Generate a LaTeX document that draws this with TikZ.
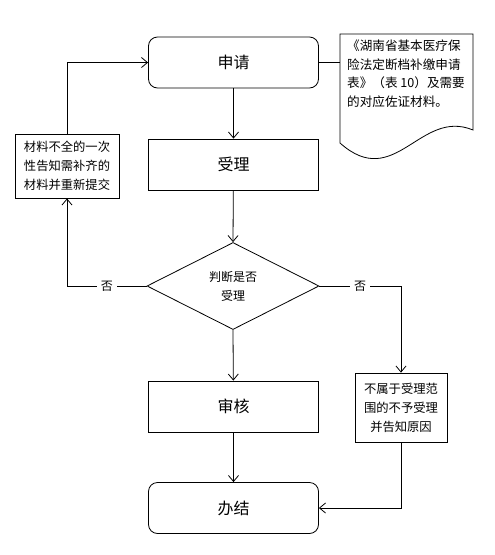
\documentclass[tikz,border=0pt]{standalone}
\usepackage{fontspec}
\setmainfont{Noto Sans CJK SC}
\usetikzlibrary{arrows.meta,shapes.geometric}
\tikzset{
  base/.style={draw=black, line width=0.8pt, inner sep=0pt, align=center},
  bigbox/.style={base, minimum width=170pt, minimum height=51pt, font=\fontsize{16}{18}\selectfont},
  rbox/.style={bigbox, rounded corners=9pt},
  smallbox/.style={base, font=\fontsize{12.3}{19}\selectfont},
  flow/.style={draw=black, line width=0.8pt, -{Straight Barb[length=6pt,width=10pt,line width=0.8pt]}},
  plain/.style={draw=black, line width=0.8pt},
  lab/.style={fill=white, inner sep=4pt, font=\fontsize{12}{14}\selectfont}
}
\begin{document}
\begin{tikzpicture}[x=1pt, y=-1pt]
\useasboundingbox (0,0) rectangle (495,555);
% nodes
\node[rbox] (shen) at (233.5,62.5) {申请};
\node[bigbox] (shou) at (233.5,164.5) {受理};
\node[base, diamond, minimum width=172pt, minimum height=87pt, font=\fontsize{12}{19}\selectfont] (pan) at (233,286) {判断是否\\受理};
\node[bigbox] (shenhe) at (233.5,406.5) {审核};
\node[rbox] (ban) at (233.5,508) {办结};
\node[smallbox, minimum width=104pt, minimum height=64pt] (bu) at (67,166) {材料不全的一次\\性告知需补齐的\\材料并重新提交};
\node[smallbox, minimum width=92pt, minimum height=69pt] (no) at (401,407.5) {不属于受理范\\围的不予受理\\并告知原因};
% document shape
\draw[plain] (340,34) -- (473,34) -- (473,130) .. controls (420,108) and (395,192) .. (340,143) -- cycle;
\node[anchor=north west, align=left, inner sep=0pt, font=\fontsize{12.6}{18.5}\selectfont] (doc) at (347,40) {《湖南省基本医疗保\\险法定断档补缴申请\\表》（表 10）及需要\\的对应佐证材料。};
\coordinate (docL) at (340,62.5);
\coordinate (cornerL) at (67,286);
\coordinate (topL) at (67,62.5);
\coordinate (cornerR) at (401,286);
\coordinate (botR) at (401,508);
% connectors
\draw[plain] (shen.east) -- (docL);
\draw[flow] (shen) -- (shou);
\draw[flow] (shou) -- (pan.north);
\draw[flow] (pan.south) -- (shenhe);
\draw[flow] (shenhe) -- (ban);
\draw[flow] (pan.west) -- node[lab] {否} (cornerL) -- (bu.south);
\draw[flow] (bu.north) -- (topL) -- (shen.west);
\draw[flow] (pan.east) -- node[lab] {否} (cornerR) -- (no.north);
\draw[flow] (no.south) -- (botR) -- (ban.east);
\end{tikzpicture}
\end{document}
